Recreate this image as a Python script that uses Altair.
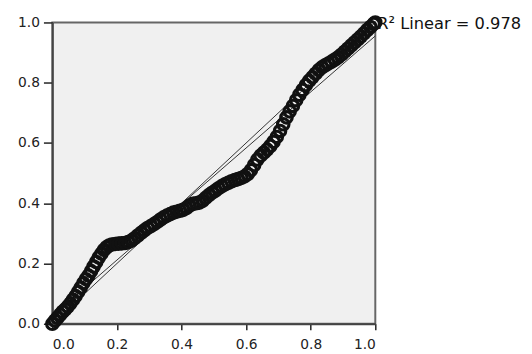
import altair as alt
import pandas as pd

# observed cumulative probability (x) vs expected cumulative probability (y)
obs_x = [0.000, 0.008, 0.016, 0.024, 0.032, 0.040, 0.048, 0.056, 0.064, 0.072,
         0.080, 0.088, 0.096, 0.104, 0.112, 0.120, 0.128, 0.136, 0.144, 0.152,
         0.160, 0.168, 0.176, 0.184, 0.195, 0.205, 0.215, 0.225, 0.235, 0.245,
         0.255, 0.265, 0.275, 0.285, 0.295, 0.305, 0.315, 0.325, 0.335, 0.345,
         0.355, 0.365, 0.375, 0.385, 0.395, 0.405, 0.415, 0.425, 0.435, 0.445,
         0.455, 0.465, 0.475, 0.485, 0.495, 0.505, 0.515, 0.525, 0.535, 0.545,
         0.555, 0.565, 0.575, 0.585, 0.595, 0.605, 0.615, 0.625, 0.635, 0.645,
         0.655, 0.665, 0.675, 0.685, 0.695, 0.705, 0.715, 0.725, 0.735, 0.745,
         0.755, 0.765, 0.775, 0.785, 0.795, 0.805, 0.815, 0.825, 0.835, 0.845,
         0.855, 0.865, 0.875, 0.885, 0.895, 0.905, 0.915, 0.925, 0.935, 0.945,
         0.955, 0.965, 0.975, 0.985, 0.995, 1.000]
obs_y = [0.000, 0.010, 0.020, 0.030, 0.040, 0.048, 0.057, 0.068, 0.080, 0.092,
         0.106, 0.120, 0.135, 0.148, 0.160, 0.175, 0.190, 0.205, 0.220, 0.233,
         0.245, 0.254, 0.260, 0.263, 0.265, 0.266, 0.267, 0.268, 0.271, 0.276,
         0.284, 0.293, 0.302, 0.310, 0.318, 0.324, 0.331, 0.338, 0.346, 0.353,
         0.359, 0.364, 0.369, 0.372, 0.375, 0.378, 0.384, 0.392, 0.398, 0.400,
         0.402, 0.408, 0.418, 0.427, 0.435, 0.442, 0.450, 0.457, 0.463, 0.468,
         0.473, 0.477, 0.480, 0.484, 0.489, 0.497, 0.510, 0.527, 0.545, 0.558,
         0.568, 0.578, 0.590, 0.604, 0.620, 0.640, 0.662, 0.685, 0.705, 0.723,
         0.742, 0.760, 0.776, 0.792, 0.806, 0.818, 0.830, 0.842, 0.851, 0.858,
         0.864, 0.870, 0.877, 0.884, 0.893, 0.903, 0.913, 0.923, 0.933, 0.943,
         0.953, 0.964, 0.975, 0.985, 0.995, 1.000]

diag_x = [0.0, 1.0]
diag_y = [0.0, 1.0]
tick_values = [0.0, 0.2, 0.4, 0.6, 0.8, 1.0]
annotation = "R\u00b2 Linear = 0.978"

pts = pd.DataFrame({"x": obs_x, "y": obs_y})
diag = pd.DataFrame({"x": diag_x, "y": diag_y})
ann = pd.DataFrame({"label": [annotation]})

font = "DejaVu Sans"

xscale = alt.Scale(domain=[0, 1], nice=False, zero=False)
yscale = alt.Scale(domain=[0, 1], nice=False, zero=False)

xaxis = alt.Axis(values=tick_values, format=".1f", title=None, grid=False,
                 tickSize=6, labelPadding=8, domainColor="#444", domainWidth=2,
                 tickColor="#222", tickWidth=1.5)
yaxis = alt.Axis(values=tick_values, format=".1f", title=None, grid=False,
                 tickSize=9, labelPadding=4, domainColor="#444", domainWidth=2,
                 tickColor="#222", tickWidth=1.5)

base_pts = alt.Chart(pts)

points = base_pts.mark_point(shape="circle", filled=False, color="#111",
                             strokeWidth=3.2, size=135, opacity=1).encode(
    x=alt.X("x:Q", scale=xscale, axis=xaxis),
    y=alt.Y("y:Q", scale=yscale, axis=yaxis),
)

fit = base_pts.transform_regression("x", "y", extent=[0, 1]).mark_line(
    color="#333", strokeWidth=1).encode(
    x=alt.X("x:Q", scale=xscale),
    y=alt.Y("y:Q", scale=yscale),
)

diag_line = alt.Chart(diag).mark_line(color="#333", strokeWidth=1).encode(
    x=alt.X("x:Q", scale=xscale),
    y=alt.Y("y:Q", scale=yscale),
)

text = alt.Chart(ann).mark_text(font=font, fontSize=16.5, align="left",
                                baseline="alphabetic", color="#111").encode(
    x=alt.value(330), y=alt.value(7), text="label:N")

chart = alt.layer(diag_line, fit, points, text).properties(
    width=328, height=306,
    autosize=alt.AutoSizeParams(type="none"),
    padding={"left": 45, "top": 12, "right": 151, "bottom": 28},
).configure_view(
    fill="#f0f0f0", stroke="#666", strokeWidth=2
).configure_axis(
    labelFont=font, labelFontSize=14, labelColor="#222"
)

chart.save("out.html", embed_options={"renderer": "svg", "actions": False})
